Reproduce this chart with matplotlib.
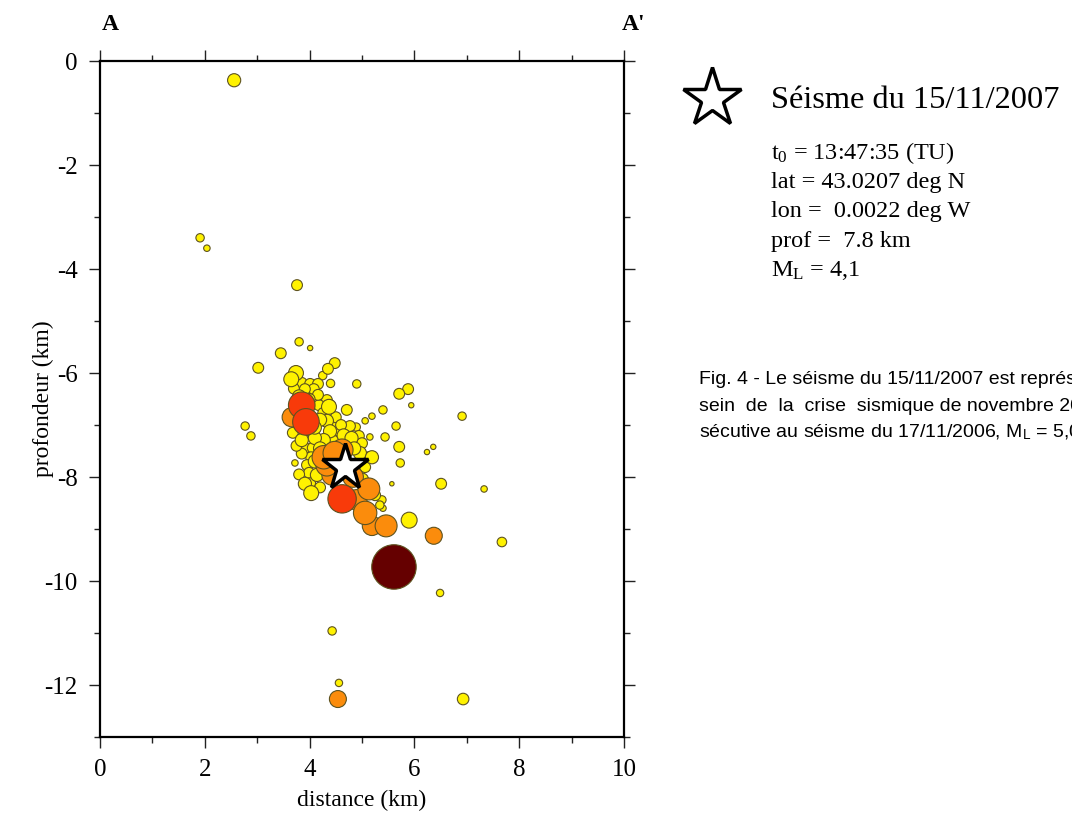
import matplotlib
matplotlib.use("Agg")
import matplotlib.pyplot as plt
import numpy as np
from matplotlib.lines import Line2D

plt.rcParams['font.family'] = ['Liberation Serif', 'DejaVu Serif']
plt.rcParams['mathtext.fontset'] = 'custom'
plt.rcParams['mathtext.rm'] = 'Liberation Serif'
plt.rcParams['mathtext.sf'] = 'Liberation Sans'
plt.rcParams['mathtext.it'] = 'Liberation Serif:italic'

# events: distance along A-A' (km), depth (km, negative down), magnitude
dist = [2.56, 1.91, 2.04, 3.76, 3.80, 4.01, 3.45, 3.02, 4.48, 4.35,
        3.74, 3.65, 3.85, 4.01, 4.16, 4.08, 3.91, 4.90, 4.33, 4.37,
        4.71, 4.18, 5.40, 5.19, 5.06, 2.77, 2.88, 4.33, 4.39, 4.56,
        4.77, 4.89, 4.94, 5.44, 5.15, 4.27, 4.10, 3.85, 3.68, 3.91,
        4.06, 4.71, 4.92, 4.96, 5.19, 4.03, 3.95, 3.72, 3.99, 4.14,
        3.91, 4.01, 4.03, 5.38, 5.34, 5.40, 5.06, 5.13, 5.88, 5.71,
        5.94, 6.91, 5.65, 5.71, 5.73, 6.24, 6.36, 5.57, 6.51, 7.33,
        5.90, 7.67, 6.49, 4.43, 4.56, 6.93, 4.39, 4.16, 4.26, 4.48,
        3.82, 4.58, 3.70, 3.80, 4.00, 4.20, 4.10, 3.95, 4.50, 4.60,
        4.65, 4.80, 4.85, 4.45, 4.20, 3.85, 4.10, 3.80, 4.20, 5.00,
        5.25, 5.00, 3.75, 4.40, 4.25,
        3.66, 4.27, 4.48, 4.62, 4.33, 4.43, 5.13, 4.90, 4.83, 5.06,
        5.19, 5.46, 6.37, 4.54,
        3.85, 3.93, 4.62,
        5.61]
depth = [-0.37, -3.40, -3.60, -4.31, -5.40, -5.52, -5.62, -5.90, -5.81, -5.92,
         -6.00, -6.12, -6.19, -6.21, -6.21, -6.31, -6.31, -6.21, -6.52, -6.65,
         -6.71, -6.62, -6.71, -6.83, -6.92, -7.02, -7.21, -6.92, -7.12, -7.13,
         -7.02, -7.04, -7.21, -7.23, -7.23, -7.29, -7.25, -7.29, -7.15, -7.44,
         -7.44, -7.33, -7.42, -7.54, -7.62, -7.62, -7.77, -7.73, -7.92, -7.96,
         -8.13, -8.12, -8.31, -8.44, -8.54, -8.60, -7.81, -7.62, -6.31, -6.40,
         -6.62, -6.83, -7.02, -7.42, -7.73, -7.52, -7.42, -8.13, -8.13, -8.23,
         -8.83, -9.25, -10.23, -10.96, -11.96, -12.27, -6.62, -6.42, -6.77, -6.94,
         -6.90, -7.29, -6.30, -6.45, -6.50, -6.90, -7.05, -7.10, -6.85, -7.00,
         -7.20, -7.25, -7.45, -7.30, -7.45, -7.55, -7.70, -7.95, -8.20, -8.05,
         -8.35, -7.35, -7.40, -6.20, -6.05,
         -6.85, -7.62, -7.54, -7.48, -7.77, -7.96, -8.23, -8.44, -8.00, -8.69,
         -8.94, -8.94, -9.13, -12.27,
         -6.62, -6.94, -8.42,
         -9.73]
mag = [2.2, 1.5, 1.1, 1.9, 1.5, 0.8, 1.9, 1.9, 1.9, 1.9,
       2.4, 2.4, 1.9, 1.9, 1.9, 1.9, 1.9, 1.5, 1.9, 2.4,
       1.9, 1.9, 1.5, 1.1, 1.1, 1.5, 1.5, 2.2, 2.2, 1.9,
       1.9, 1.5, 1.9, 1.5, 1.1, 2.2, 2.2, 2.2, 1.9, 1.9,
       1.9, 1.9, 1.9, 2.2, 2.2, 1.9, 1.9, 1.1, 1.9, 2.2,
       2.2, 1.9, 2.4, 1.5, 1.5, 1.1, 1.9, 1.9, 1.9, 1.9,
       0.8, 1.5, 1.5, 1.9, 1.5, 0.8, 0.8, 0.5, 1.9, 1.1,
       2.5, 1.7, 1.3, 1.5, 1.3, 2.0, 1.9, 1.9, 1.9, 1.9,
       1.9, 1.9, 1.9, 2.2, 1.9, 2.2, 2.2, 1.9, 1.9, 1.9,
       2.2, 2.2, 2.2, 1.9, 2.2, 1.9, 2.2, 1.9, 1.9, 2.2,
       1.9, 1.9, 1.9, 1.5, 1.5,
       2.8, 3.1, 3.1, 3.0, 3.0, 2.9, 3.0, 2.9, 2.9, 3.1,
       2.8, 3.0, 2.6, 2.6,
       3.3, 3.3, 3.4,
       4.1]

main_dist = 4.68
main_depth = -7.8

info_lines = ["t$_\\mathrm{0}$ = 13:47:35 (TU)", "lat = 43.0207 deg N",
              "lon =  0.0022 deg W", "prof =  7.8 km", "M$_\\mathrm{L}$ = 4,1"]
caption = ["Fig. 4 - Le séisme du 15/11/2007 est représenté par une étoile au",
           "sein  de  la  crise  sismique de novembre 2006 con-",
           "sécutive au séisme du 17/11/2006, M$_\\mathsf{L}$ = 5,0."]


def mag_color(m):
    if m < 2.55:
        return '#fff200'
    if m < 3.2:
        return '#fb8c0c'
    if m < 3.8:
        return '#f83a0a'
    return '#650000'


W, H = 1072, 821
fig = plt.figure(figsize=(W / 100, H / 100), dpi=100)
ax = fig.add_axes([100 / W, 1 - 737 / H, 524 / W, 676 / H])

d = np.array(dist)
z = np.array(depth)
m = np.array(mag)
order = np.argsort(m, kind='stable')
diam_pt = 3.2 * 1.9 ** m * 0.72
ax.scatter(d[order], z[order], s=diam_pt[order] ** 2,
           c=[mag_color(v) for v in m[order]],
           edgecolors='#5e5320', linewidths=0.8, zorder=3)
ax.plot([main_dist], [main_depth], marker='*', markersize=35,
        markerfacecolor='white', markeredgecolor='black',
        markeredgewidth=2.5, zorder=5)

ax.set_xlim(0, 10)
ax.set_ylim(-13, 0)
ax.set_xticks(np.arange(0, 11, 2))
ax.set_xticks(np.arange(1, 10, 2), minor=True)
ax.set_yticks(np.arange(-12, 1, 2))
ax.set_yticks(np.arange(-13, 0, 2), minor=True)
ax.set_yticklabels([str(v) for v in range(-12, 1, 2)])
ax.tick_params(which='both', direction='out', top=True, right=True,
               labelsize=18, width=1.0, colors='#222222', labelcolor='black')
ax.tick_params(which='major', length=8, pad=8)
ax.tick_params(which='minor', length=4)
for sp in ax.spines.values():
    sp.set_linewidth(1.6)
ax.set_xlabel('distance (km)', fontsize=17, labelpad=6)
ax.set_ylabel('profondeur (km)', fontsize=17)
ax.yaxis.set_label_coords(-0.088, 0.5)

fig.text(110 / W, 1 - 25 / H, 'A', fontsize=17, fontweight='bold',
         ha='center', va='center')
fig.text(634 / W, 1 - 25 / H, "A'", fontsize=17, fontweight='bold',
         ha='center', va='center')

fig.add_artist(Line2D([712 / W], [1 - 98 / H], transform=fig.transFigure,
                      marker='*', markersize=44, markerfacecolor='white',
                      markeredgecolor='black', markeredgewidth=2.5))
fig.text(771 / W, 1 - 101 / H, 'Séisme du 15/11/2007', fontsize=23.3,
         ha='left', va='center')
for i, line in enumerate(info_lines):
    fig.text(771 / W, 1 - (153 + 29.5 * i) / H, line, fontsize=17.5,
             ha='left', va='center')
for i, line in enumerate(caption):
    fig.text(699 / W, 1 - (380 + 26 * i) / H, line, fontsize=14,
             family=['Liberation Sans', 'DejaVu Sans'], ha='left',
             va='center')

fig.savefig('out.png', dpi=100)
